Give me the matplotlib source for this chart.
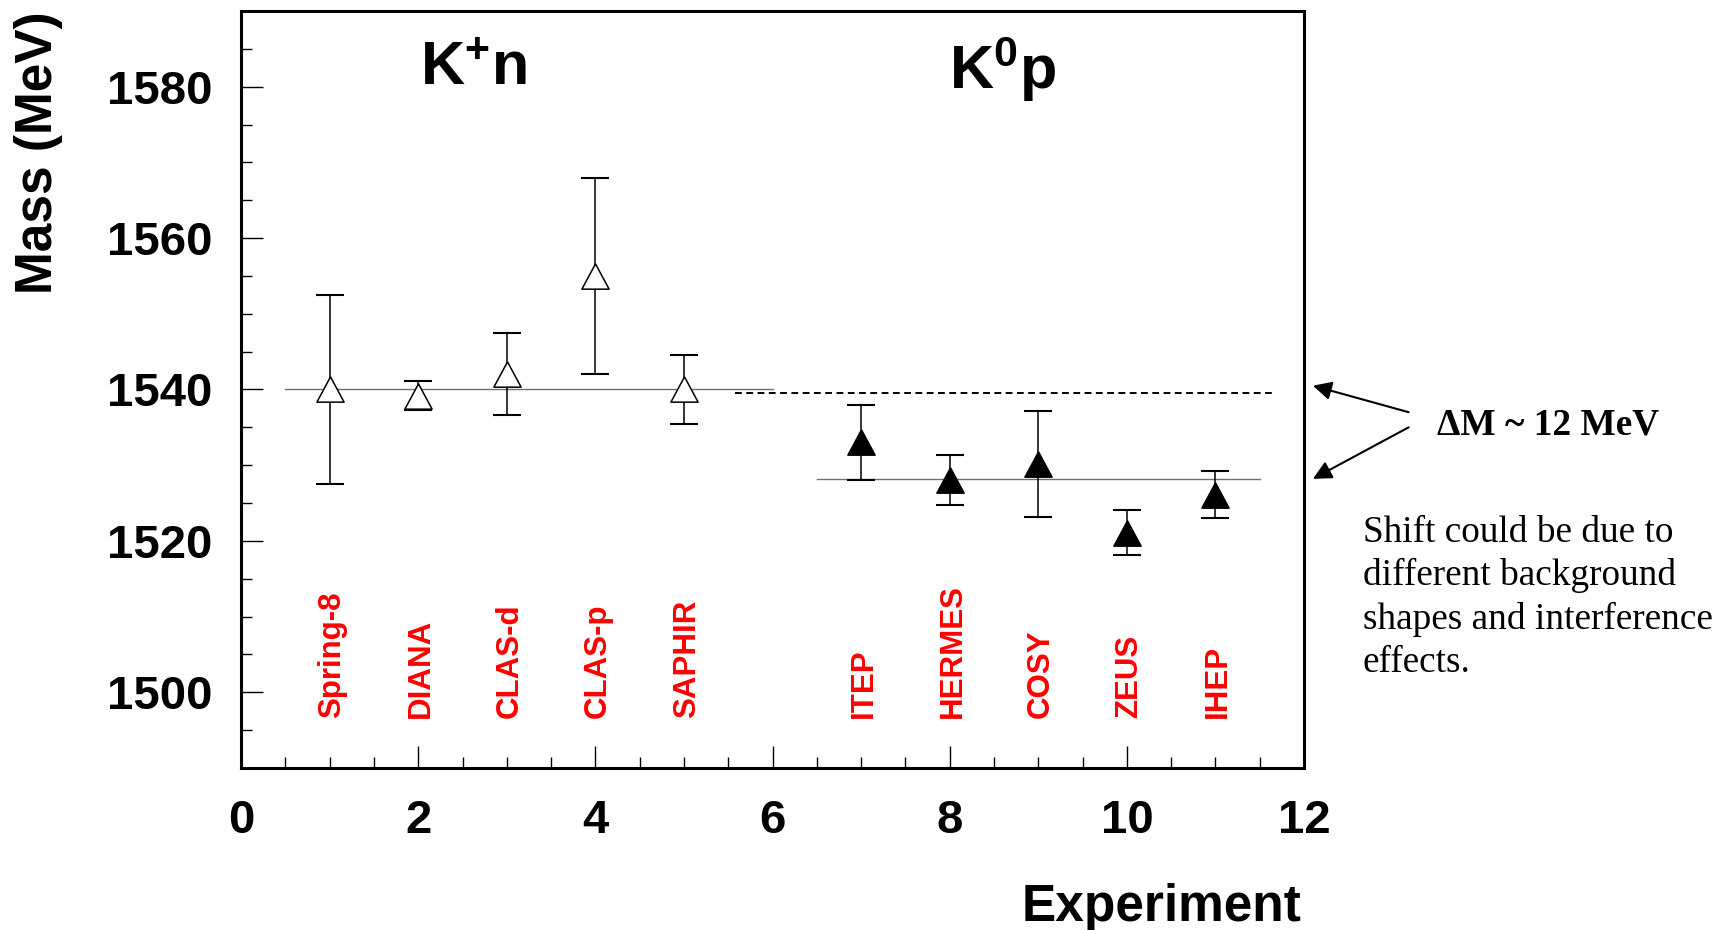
import matplotlib
matplotlib.use('Agg')
import matplotlib.pyplot as plt
from matplotlib.ticker import MultipleLocator

# ---------------- data ----------------
kn_x = [1, 2, 3, 4, 5]
kn_mass = [1540.0, 1539.2, 1542.0, 1555.0, 1540.0]
kn_err = [12.5, 1.9, 5.4, 13.0, 4.5]
kn_names = ['Spring-8', 'DIANA', 'CLAS-d', 'CLAS-p', 'SAPHIR']

k0p_x = [7, 8, 9, 10, 11]
k0p_mass = [1533.0, 1528.1, 1530.1, 1521.1, 1526.1]
k0p_err = [5.0, 3.3, 7.0, 3.0, 3.1]
k0p_names = ['ITEP', 'HERMES', 'COSY', 'ZEUS', 'IHEP']

kn_mean = 1540.0
kn_mean_range = [0.5, 6.0]
k0p_mean = 1528.2
k0p_mean_range = [6.5, 11.5]
ref_dashed = 1539.5
ref_dashed_range = [5.58, 11.67]

# ---------------- style ----------------
plt.rcParams['font.family'] = ['Liberation Sans', 'DejaVu Sans']
plt.rcParams['mathtext.fontset'] = 'custom'
plt.rcParams['mathtext.rm'] = 'Liberation Sans:bold'
plt.rcParams['mathtext.bf'] = 'Liberation Sans:bold'
plt.rcParams['mathtext.it'] = 'Liberation Sans:bold'
plt.rcParams['mathtext.sf'] = 'Liberation Sans:bold'

fig = plt.figure(figsize=(17.33, 9.30), dpi=100)
ax = fig.add_axes([0.1391, 0.1742, 0.6134, 0.8140])

tri = [(0, 0.93), (-1, -0.93), (1, -0.93), (0, 0.93)]

# mean lines
ax.plot(kn_mean_range, [kn_mean, kn_mean], color='#707070', lw=1.0, zorder=1)
ax.plot(k0p_mean_range, [k0p_mean, k0p_mean], color='#707070', lw=1.0, zorder=1)
ax.plot(ref_dashed_range, [ref_dashed, ref_dashed], color='black', lw=1.4,
        ls=(0, (3.5, 2.3)), zorder=1)

# K+n points (open)
ax.errorbar(kn_x, kn_mass, yerr=kn_err, fmt='none', ecolor='black',
            elinewidth=1.1, capsize=10, capthick=1.5, zorder=2)
ax.plot(kn_x, kn_mass, ls='none', marker=tri, ms=19.6, mfc='white',
        mec='black', mew=1.1, zorder=3)

# K0p points (filled)
ax.errorbar(k0p_x, k0p_mass, yerr=k0p_err, fmt='none', ecolor='black',
            elinewidth=1.1, capsize=10, capthick=1.5, zorder=2)
ax.plot(k0p_x, k0p_mass, ls='none', marker=tri, ms=19.6, mfc='black',
        mec='black', mew=1.1, zorder=3)

# experiment names
for xv, nm in zip(kn_x + k0p_x, kn_names + k0p_names):
    ax.text(xv + 0.03, 1496.6, nm, rotation=90, ha='center', va='bottom',
            color='#ff0000', fontsize=22.5, fontweight='bold')

# group titles
ax.text(2.62, 1582.3, r'$\mathrm{K}^{+}\mathrm{n}$', ha='center', va='center',
        fontsize=44, fontweight='bold')
ax.text(8.6, 1582.3, r'$\mathrm{K}^{0}\mathrm{p}$', ha='center', va='center',
        fontsize=44, fontweight='bold')

# axes
ax.set_xlim(0, 12)
ax.set_ylim(1490, 1590)
ax.xaxis.set_major_locator(MultipleLocator(2))
ax.xaxis.set_minor_locator(MultipleLocator(0.5))
ax.yaxis.set_major_locator(MultipleLocator(20))
ax.yaxis.set_minor_locator(MultipleLocator(5))
ax.tick_params(which='both', direction='in', top=False, right=False, width=1.0)
ax.tick_params(which='major', length=16, labelsize=34)
ax.tick_params(axis='y', which='major', pad=20.5)
ax.tick_params(axis='x', which='major', pad=22)
ax.tick_params(which='minor', length=8)
for lab in ax.get_xticklabels() + ax.get_yticklabels():
    lab.set_fontweight('bold')
for sp in ax.spines.values():
    sp.set_linewidth(2.2)

fig.text(39 / 1733, 1 - 11 / 930, 'Mass (MeV)', rotation=90, ha='center',
         va='top', fontsize=37, fontweight='bold')
fig.text(1302 / 1733, 1 - 907 / 930, 'Experiment', ha='right', va='center',
         fontsize=37, fontweight='bold')

# annotation outside the frame
arrow_kw = dict(arrowstyle='-|>', color='black', lw=1.5, mutation_scale=28,
                shrinkA=0, shrinkB=0)
ax.annotate('', xy=(12.1, 1540.5), xytext=(13.18, 1537.0), arrowprops=arrow_kw,
            annotation_clip=False)
ax.annotate('', xy=(12.1, 1528.2), xytext=(13.18, 1535.0), arrowprops=arrow_kw,
            annotation_clip=False)
ax.text(13.5, 1535.3, 'ΔM ~ 12 MeV', ha='left', va='center', fontsize=26.8,
        fontweight='bold', family=['Liberation Serif', 'DejaVu Serif'],
        clip_on=False)
ax.text(12.66, 1523.4,
        'Shift could be due to\ndifferent background\nshapes and interference\neffects.',
        ha='left', va='top', fontsize=26.8, linespacing=1.32,
        family=['Liberation Serif', 'DejaVu Serif'], clip_on=False)

fig.savefig('out.png', dpi=100)
